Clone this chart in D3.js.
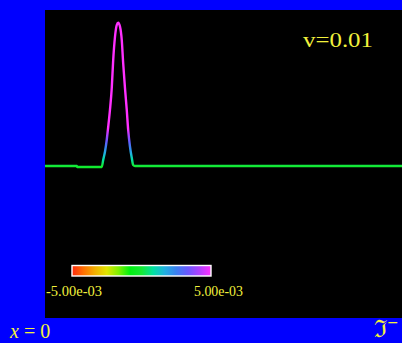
<!DOCTYPE html>
<html>
<head>
<meta charset="utf-8">
<script src="https://cdn.jsdelivr.net/npm/d3@7"></script>
<style>
  html, body { margin: 0; padding: 0; background: #0000ff; overflow: hidden; }
</style>
</head>
<body>
<div id="chart"></div>
<script>
// wave profile (grid position, field value)
var xs = [0, 8.9, 9.0, 15.9, 16.3, 16.8, 17.3, 17.7, 18.2, 18.7, 19.1, 19.6, 20.1, 20.5,
  21.0, 21.5, 21.9, 22.4, 22.9, 23.3, 23.8, 24.3, 24.7, 25.2, 100];
var vals = [0, 0, -0.00013, -0.00013, 0.0008, 0.0019, 0.0035, 0.0052, 0.0075, 0.0104, 0.0141, 0.0172, 0.0188, 0.0191,
  0.0186, 0.0168, 0.0137, 0.0104, 0.0075, 0.0048, 0.0026, 0.0011, 0.00013, 0, 0];

// colour map (rainbow) and its range
var cmapRange = [-0.005, 0.005];
var cmapLabels = ["-5.00e-03", "5.00e-03"];
var cmapColors = ["#ff2a10", "#ff7000", "#f0b000", "#e0e400", "#80f000", "#00f010", "#14ea34",
  "#00e0a0", "#20b0e0", "#3a80f0", "#6a58ff", "#b040ff", "#ff30ff"];

var title = "v=0.01";

var W = 402, H = 343;
var plot = { left: 45, top: 10, right: 402, bottom: 318 };

var svg = d3.select("#chart").append("svg")
  .attr("width", W).attr("height", H)
  .style("display", "block")
  .style("font-family", "'Liberation Serif', 'DejaVu Serif', serif");

svg.append("rect").attr("width", W).attr("height", H).attr("fill", "#0000ff");
svg.append("rect")
  .attr("x", plot.left).attr("y", plot.top)
  .attr("width", plot.right - plot.left).attr("height", plot.bottom - plot.top)
  .attr("fill", "#000");

var x = d3.scaleLinear().domain([0, 100]).range([plot.left, plot.right]);
var y = d3.scaleLinear().domain([-0.02, 0.02]).range([316, 16]);

var defs = svg.append("defs");

// vertical gradient: colour follows value, and value follows y
var grad = defs.append("linearGradient")
  .attr("id", "valgrad")
  .attr("gradientUnits", "userSpaceOnUse")
  .attr("x1", 0).attr("x2", 0)
  .attr("y1", y(cmapRange[0])).attr("y2", y(cmapRange[1]));
grad.selectAll("stop").data(cmapColors).enter().append("stop")
  .attr("offset", (d, i) => i / (cmapColors.length - 1))
  .attr("stop-color", d => d);

var hgrad = defs.append("linearGradient").attr("id", "bargrad");
hgrad.selectAll("stop").data(cmapColors).enter().append("stop")
  .attr("offset", (d, i) => i / (cmapColors.length - 1))
  .attr("stop-color", d => d);

var pts = xs.map((d, i) => [d, vals[i]]);
var line = d3.line()
  .x(d => x(d[0]))
  .y(d => y(d[1]))
  .curve(d3.curveMonotoneX);

svg.append("path")
  .datum(pts)
  .attr("d", line)
  .attr("fill", "none")
  .attr("stroke", "url(#valgrad)")
  .attr("stroke-width", 2.4)
  .attr("stroke-linejoin", "round");

// title
svg.append("text")
  .attr("x", 303).attr("y", 46.5)
  .attr("fill", "#f2f23c")
  .style("font-size", "22px")
  .attr("textLength", 70).attr("lengthAdjust", "spacingAndGlyphs")
  .text(title);

// colour bar
var cb = d3.scaleLinear().domain(cmapRange).range([72, 211]);
svg.append("rect")
  .attr("x", cb(cmapRange[0])).attr("y", 265.5)
  .attr("width", cb(cmapRange[1]) - cb(cmapRange[0])).attr("height", 10.5)
  .attr("fill", "url(#bargrad)")
  .attr("stroke", "#fff").attr("stroke-width", 1.4);

svg.selectAll(".cblab").data(cmapLabels).enter().append("text")
  .attr("class", "cblab")
  .attr("x", (d, i) => i == 0 ? 46 : 194)
  .attr("y", 295.5)
  .attr("fill", "#f2f23c")
  .style("font-size", "15px")
  .attr("textLength", (d, i) => i == 0 ? 56 : 49)
  .attr("lengthAdjust", "spacingAndGlyphs")
  .text(d => d);

// bottom labels
var bl = svg.append("text")
  .attr("x", 10).attr("y", 338)
  .attr("fill", "#f2f23c")
  .style("font-size", "20px");
bl.append("tspan").style("font-style", "italic").text("x");
bl.append("tspan").text(" = 0");

var br = svg.append("text")
  .attr("x", 374).attr("y", 337)
  .attr("fill", "#f2f23c")
  .style("font-family", "'DejaVu Serif', serif")
  .style("font-size", "24px");
br.append("tspan").text("ℑ");
br.append("tspan").attr("dy", -10).style("font-size", "14px").text("−");
</script>
</body>
</html>
